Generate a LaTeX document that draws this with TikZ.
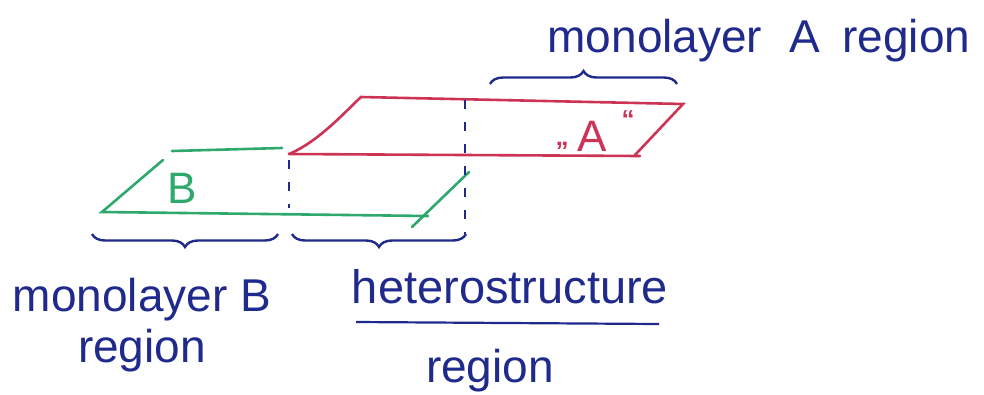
\documentclass[tikz,border=0pt]{standalone}
\usepackage{fontspec}
\setmainfont{Liberation Sans}
\usetikzlibrary{decorations.pathreplacing}
\definecolor{inkblue}{HTML}{1F2A8C}
\definecolor{inkred}{HTML}{CC3355}
\definecolor{inkgreen}{HTML}{2EA86C}
\tikzset{
  redline/.style={draw=inkred,line width=2.6pt,line cap=round},
  greenline/.style={draw=inkgreen,line width=2.6pt,line cap=round},
  dashline/.style={draw=inkblue,line width=2pt,dash pattern=on 9pt off 13pt},
  bracestyle/.style={draw=inkblue,line width=2.4pt,decorate,decoration={brace,amplitude=13pt}},
  label/.style={text=inkblue,font=\fontsize{46}{50}\selectfont,anchor=base,inner sep=0pt},
}
\begin{document}
\begin{tikzpicture}[x=1pt,y=-1pt]
\useasboundingbox (0,0) rectangle (984,394);
% red layer A
\coordinate (a1) at (361,97);
\coordinate (a2) at (683,104);
\coordinate (a3) at (635,155);
\coordinate (a4) at (289,154);
\draw[redline] (a4) .. controls (318,142) and (345,112) .. (a1) -- (a2) -- (a3);
\draw[redline] (a4) -- (640,156);
\node[text=inkred,font=\fontsize{44}{48}\selectfont,inner sep=0pt] (A) at (592,136) {A};
\node[text=inkred,font=\bfseries\fontsize{26}{28}\selectfont,inner sep=0pt] (q1) at (562,146) {„};
\node[text=inkred,font=\bfseries\fontsize{26}{28}\selectfont,inner sep=0pt] (q2) at (628,120) {“};
% green layer B
\coordinate (b1) at (172,151);
\coordinate (b2) at (282,148);
\coordinate (b3) at (163,160);
\coordinate (b4) at (102,212);
\coordinate (b5) at (428,216);
\coordinate (b6) at (469,172);
\coordinate (b7) at (412,227);
\draw[greenline] (b1) -- (b2);
\draw[greenline] (b3) -- (b4) -- (b5);
\draw[greenline] (b6) -- (b7);
\node[text=inkgreen,font=\fontsize{44}{48}\selectfont,inner sep=0pt] (B) at (182,188) {B};
% dashed verticals
\coordinate (d1) at (465,100);
\coordinate (d2) at (465,234);
\coordinate (d3) at (289,160);
\coordinate (d4) at (289,208);
\draw[dashline] (d1) -- (d2);
\draw[dashline] (d3) -- (d4);
% braces
\coordinate (t1) at (490,84);
\coordinate (t2) at (677,84);
\draw[bracestyle] (t1) -- (t2);
\coordinate (l1) at (278,234);
\coordinate (l2) at (92,234);
\draw[bracestyle] (l1) -- (l2);
\coordinate (m1) at (466,234);
\coordinate (m2) at (292,234);
\draw[bracestyle] (m1) -- (m2);
% labels
\node[label] (monoA) at (759,52) {monolayer\hspace{14pt} A\hspace{10pt} region};
\node[label] (monoB) at (142,311) {monolayer B};
\node[label] (regB) at (142,362) {region};
\node[label,font=\fontsize{47}{50}\selectfont] (hetero) at (510,303) {heterostructure};
\coordinate (u1) at (356,322);
\coordinate (u2) at (659,324);
\draw[draw=inkblue,line width=2.2pt] (u1) -- (u2);
\node[label] (regH) at (490,382) {region};
\end{tikzpicture}
\end{document}
